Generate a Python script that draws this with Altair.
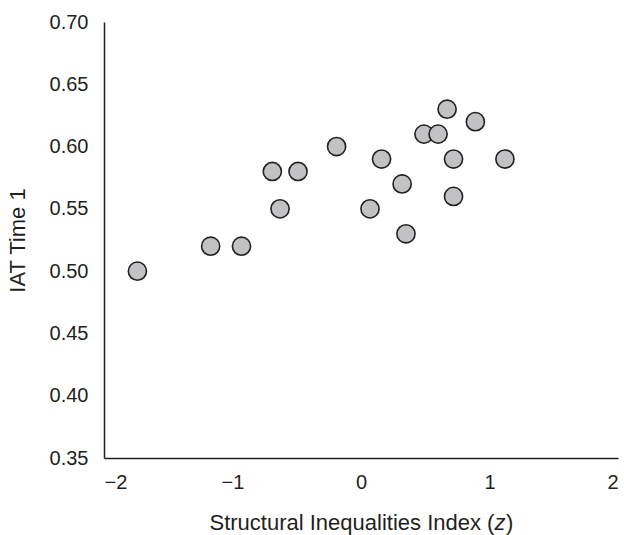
import altair as alt
import pandas as pd

x_vals = [-1.74, -1.17, -0.93, -0.69, -0.63, -0.49, -0.19, 0.07, 0.16, 0.32,
          0.35, 0.49, 0.60, 0.67, 0.72, 0.72, 0.89, 1.12]
y_vals = [0.50, 0.52, 0.52, 0.58, 0.55, 0.58, 0.60, 0.55, 0.59, 0.57,
          0.53, 0.61, 0.61, 0.63, 0.59, 0.56, 0.62, 0.59]
x_ticks = [-2, -1, 0, 1, 2]
y_ticks = [0.35, 0.40, 0.45, 0.50, 0.55, 0.60, 0.65, 0.70]
x_title_parts = ["Structural Inequalities Index (", "z", ")"]
y_title = "IAT Time 1"

df = pd.DataFrame({"x": x_vals, "y": y_vals})

FONT = "Liberation Sans, Arial, sans-serif"
INK = "#231f20"

points = alt.Chart(df).mark_point(
    filled=True, fill="#c1c2c4", stroke=INK, strokeWidth=1.6,
    size=330, opacity=1, fillOpacity=1
).encode(
    x=alt.X("x:Q", scale=alt.Scale(domain=[-2, 2], nice=False),
            axis=alt.Axis(values=x_ticks, title=None,
                          labelExpr="replace(datum.label, '-', '\u2212')",
                          grid=False, ticks=False, domainColor=INK, domainWidth=1.5,
                          labelFont=FONT, labelFontSize=20, labelColor=INK,
                          labelPadding=14)),
    y=alt.Y("y:Q", scale=alt.Scale(domain=[0.35, 0.70], nice=False, zero=False),
            axis=alt.Axis(values=y_ticks, format=".2f", title=y_title,
                          grid=False, ticks=False, domainColor=INK, domainWidth=1.5,
                          labelFont=FONT, labelFontSize=20, labelColor=INK,
                          labelPadding=16, titleFont=FONT, titleFontSize=22,
                          titleFontWeight="normal", titleColor=INK, titlePadding=20)),
)

tdf = pd.DataFrame({"t": [0]})
TY = 508
t1 = alt.Chart(tdf).mark_text(font=FONT, fontSize=22, color=INK, align="left",
                              baseline="alphabetic").encode(
    x=alt.value(105.5), y=alt.value(TY), text=alt.value(x_title_parts[0]))
t2 = alt.Chart(tdf).mark_text(font=FONT, fontSize=22, color=INK, align="left",
                              baseline="alphabetic", fontStyle="italic").encode(
    x=alt.value(390.5), y=alt.value(TY), text=alt.value(x_title_parts[1]))
t3 = alt.Chart(tdf).mark_text(font=FONT, fontSize=22, color=INK, align="left",
                              baseline="alphabetic").encode(
    x=alt.value(402), y=alt.value(TY), text=alt.value(x_title_parts[2]))

chart = alt.layer(points, t1, t2, t3).properties(
    width=514, height=436,
    autosize=alt.AutoSizeParams(type="none"),
    padding={"left": 104, "top": 22, "right": 6, "bottom": 77},
).configure_view(stroke=None)

chart.save("out.html", embed_options={"renderer": "svg", "actions": False})
